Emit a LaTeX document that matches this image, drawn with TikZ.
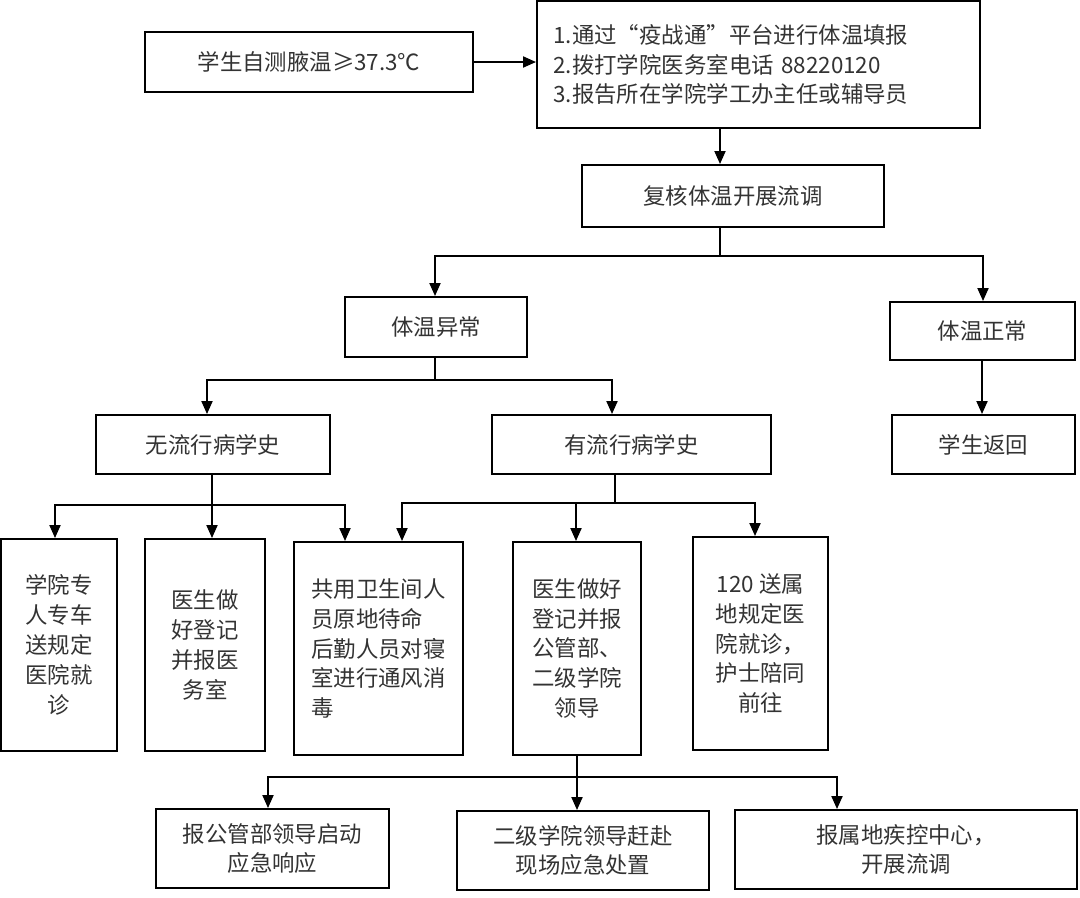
\documentclass[tikz,border=0pt]{standalone}
\usepackage{fontspec}
\newfontfamily\cjk{Noto Sans CJK SC}
\usetikzlibrary{arrows.meta}
\begin{document}
\begin{tikzpicture}
    % Definizione stili
    \tikzstyle{casella}=[draw, line width=1.1pt, inner sep=0pt, align=center, text=black!80, font=\cjk\fontsize{12.75}{17}\selectfont]
    \tikzstyle{freccia}=[-{Triangle[length=0.26cm, width=0.22cm]}, line width=1.1pt]
    \tikzstyle{ramo}=[line width=1.1pt]

    \useasboundingbox (0,0) rectangle (21.6,-17.94);

    % Segnalazione iniziale
    \node[casella, minimum width=6.56cm, minimum height=1.2cm] (test_ini) at (6.18,-1.24) {学生自测腋温≥37.3℃};
    \node[casella, minimum width=8.86cm, minimum height=2.54cm, align=left, text width=8.2cm] (segnala) at (15.17,-1.29) {1.通过“疫战通”平台进行体温填报\\2.拨打学院医务室电话 88220120\\3.报告所在学院学工办主任或辅导员};
    \node[casella, minimum width=6.04cm, minimum height=1.24cm] (verifica) at (14.66,-3.92) {复核体温开展流调};

    % Esito della verifica
    \node[casella, minimum width=3.64cm, minimum height=1.2cm] (temp_alta) at (8.72,-6.54) {体温异常};
    \node[casella, minimum width=3.7cm, minimum height=1.16cm] (temp_norm) at (19.65,-6.62) {体温正常};
    \node[casella, minimum width=3.66cm, minimum height=1.18cm] (rientro) at (19.67,-8.89) {学生返回};
    \node[casella, minimum width=4.68cm, minimum height=1.18cm] (no_storia) at (4.26,-8.89) {无流行病学史};
    \node[casella, minimum width=5.58cm, minimum height=1.18cm] (si_storia) at (12.63,-8.89) {有流行病学史};

    % Azioni
    \node[casella, minimum width=2.32cm, minimum height=4.24cm] (az_1) at (1.18,-12.9) {学院专\\人专车\\送规定\\医院就\\诊};
    \node[casella, minimum width=2.4cm, minimum height=4.24cm] (az_2) at (4.1,-12.9) {医生做\\好登记\\并报医\\务室};
    \node[casella, minimum width=3.38cm, minimum height=4.26cm, align=left] (az_3) at (7.57,-12.97) {共用卫生间人\\员原地待命\\后勤人员对寝\\室进行通风消\\毒};
    \node[casella, minimum width=2.56cm, minimum height=4.26cm] (az_4) at (11.54,-12.97) {医生做好\\登记并报\\公管部、\\二级学院\\领导};
    \node[casella, minimum width=2.7cm, minimum height=4.26cm] (az_5) at (15.21,-12.87) {120 送属\\地规定医\\院就诊，\\护士陪同\\前往};

    % Esiti finali
    \node[casella, minimum width=4.66cm, minimum height=1.58cm] (esito_1) at (5.45,-16.97) {报公管部领导启动\\应急响应};
    \node[casella, minimum width=5.04cm, minimum height=1.58cm] (esito_2) at (11.66,-17.01) {二级学院领导赶赴\\现场应急处置};
    \node[casella, minimum width=6.84cm, minimum height=1.58cm] (esito_3) at (18.12,-16.99) {报属地疾控中心，\\开展流调};

    % Frecce
    \draw[freccia] (test_ini.east) -- (test_ini.east -| segnala.west);
    \draw[freccia] (segnala.south -| 14.4,0) -- (verifica.north -| 14.4,0);

    \coordinate (k1) at (14.4,-5.12);
    \draw[ramo] (verifica.south -| k1) -- (k1);
    \draw[freccia] (k1) -| (temp_alta.north -| 8.7,0);
    \draw[freccia] (k1) -| (temp_norm.north -| 19.66,0);
    \draw[freccia] (temp_norm.south -| 19.64,0) -- (rientro.north -| 19.64,0);

    \coordinate (k2) at (8.7,-7.6);
    \draw[ramo] (temp_alta.south -| k2) -- (k2);
    \draw[freccia] (k2) -| (no_storia.north -| 4.14,0);
    \draw[freccia] (k2) -| (si_storia.north -| 12.24,0);

    \coordinate (k3) at (4.24,-10.1);
    \draw[ramo] (no_storia.south -| k3) -- (k3);
    \draw[freccia] (k3) -| (az_1.north -| 1.1,0);
    \draw[freccia] (k3) -- (az_2.north -| k3);
    \draw[freccia] (k3) -| (az_3.north -| 6.9,0);

    \coordinate (k4) at (12.3,-10.06);
    \draw[ramo] (si_storia.south -| k4) -- (k4);
    \draw[freccia] (k4) -| (az_3.north -| 8.04,0);
    \draw[freccia] (k4) -| (az_4.north -| 11.52,0);
    \draw[freccia] (k4) -| (az_5.north -| 15.1,0);

    \coordinate (k5) at (11.54,-15.54);
    \draw[ramo] (az_4.south -| k5) -- (k5);
    \draw[freccia] (k5) -| (esito_1.north -| 5.36,0);
    \draw[freccia] (k5) -- (esito_2.north -| k5);
    \draw[freccia] (k5) -| (esito_3.north -| 16.74,0);
\end{tikzpicture}
\end{document}
